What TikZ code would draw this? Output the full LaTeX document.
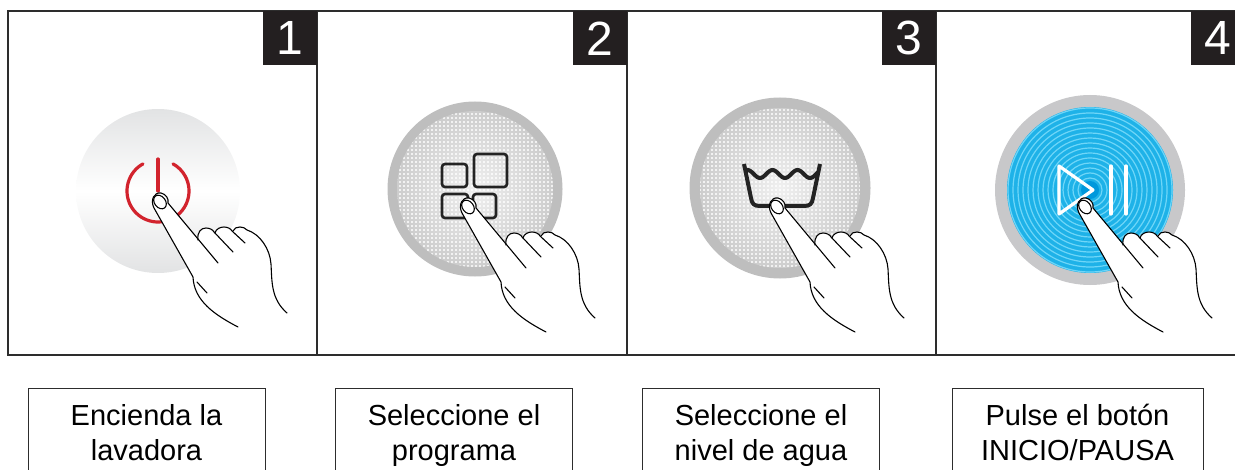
\documentclass[tikz,border=0pt]{standalone}
\usepackage{fontspec}
\setmainfont{Liberation Sans}
\usetikzlibrary{patterns.meta}
\definecolor{framegray}{RGB}{45, 45, 45}
\definecolor{badgeblack}{RGB}{35, 31, 32}
\definecolor{ringgray}{RGB}{190, 190, 190}
\definecolor{lightring}{RGB}{200, 200, 202}
\definecolor{meshgray}{RGB}{205, 205, 205}
\definecolor{softgray}{RGB}{226, 227, 228}
\definecolor{powerred}{RGB}{210, 35, 45}
\definecolor{iconblack}{RGB}{35, 35, 35}
\definecolor{startblue}{RGB}{30, 178, 232}
\definecolor{waveblue}{RGB}{110, 214, 248}
\definecolor{coreblue}{RGB}{0, 152, 220}
\tikzset{
  handline/.style={black, line width=0.55pt, line cap=round, line join=round},
  stepnum/.style={fill=badgeblack, text=white, minimum size=27pt, inner sep=0pt, anchor=north east, font=\fontsize{24}{24}\selectfont},
  caption/.style={draw=framegray, line width=0.5pt, anchor=north, align=center, minimum width=118.5pt, inner xsep=0pt, inner ysep=8pt, font=\fontsize{14.5}{17.5}\selectfont},
}
\newcommand{\pointinghand}[1]{%
  \begin{scope}[shift={#1}]
    % palm, index finger and curled knuckles
    \fill[white] (78,125) .. controls (55,113) and (34,99) .. (33,75) -- (-6,6)
      .. controls (-10,-2) and (-6,-10) .. (1,-9) .. controls (6,-8) and (9,-3) .. (8,1)
      -- (38,38) .. controls (37,30) and (41,26) .. (46,26) .. controls (50,26) and (53,28) .. (54,30)
      .. controls (56,27) and (60,25) .. (64,25) .. controls (68,25) and (71,27) .. (72,29)
      .. controls (74,26) and (77,25) .. (80,25) .. controls (83,25) and (85,26) .. (87,28)
      .. controls (100,32) and (110,47) .. (111,62) .. controls (112,80) and (111,97) .. (127,111) -- cycle;
    \draw[handline] (78,125) .. controls (55,113) and (34,99) .. (33,75) -- (-6,6)
      .. controls (-10,-2) and (-6,-10) .. (1,-9) .. controls (6,-8) and (9,-3) .. (8,1)
      -- (58,61);
    \draw[handline] (38,38) .. controls (37,30) and (41,26) .. (46,26) .. controls (50,26) and (53,28) .. (54,30) -- (73,50);
    \draw[handline] (55,31) .. controls (56,27) and (60,25) .. (64,25) .. controls (68,25) and (71,27) .. (72,29) -- (85,41);
    \draw[handline] (73,29) .. controls (74,26) and (77,25) .. (80,25) .. controls (83,25) and (85,26) .. (87,28)
      .. controls (100,32) and (110,47) .. (111,62) .. controls (112,80) and (111,97) .. (127,111);
    \draw[handline] (37,80) -- (47,91);
    % nail
    \draw[handline, rotate=-52] (0,0) ellipse (7.5 and 5.5);
  \end{scope}}

\begin{document}
\begin{tikzpicture}[x=0.5pt, y=-0.5pt]
  \useasboundingbox (0,0) rectangle (1235,470);
  \clip (0,0) rectangle (1235,470);

  % Button 1: power
  \coordinate (b1) at (158,191);
  \shade[top color=softgray, bottom color=softgray, middle color=white] (b1) circle (82);
  \draw[powerred, line width=1.6pt, line cap=round] (b1) ++(-119:31) arc (-119:-421:31);
  \draw[powerred, line width=1.6pt, line cap=round] (b1) ++(0,-32) -- (b1);
  \pointinghand{(160,202)}

  % Button 2: programs
  \coordinate (b2) at (475,189);
  \fill[ringgray] (b2) circle (87.5);
  \shade[inner color=meshgray!30, outer color=meshgray] (b2) circle (78);
  \fill[pattern={Dots[distance=2pt, radius=0.6pt]}, pattern color=white] (b2) circle (78);
  \draw[iconblack, line width=1.3pt, rounded corners=1.5pt]
    (442,164) rectangle (467,187) (474,154) rectangle (507,187)
    (442,194) rectangle (468,218) (473,194) rectangle (496,218);
  \pointinghand{(468,207)}

  % Button 3: water level
  \coordinate (b3) at (780,188);
  \fill[ringgray] (b3) circle (90.5);
  \shade[inner color=meshgray!30, outer color=meshgray] (b3) circle (80);
  \fill[pattern={Dots[distance=2pt, radius=0.6pt]}, pattern color=white] (b3) circle (80);
  \draw[iconblack, line width=2pt, line join=round] (744,164) -- (751,198)
    .. controls (752,204) and (754,206) .. (760,206) -- (804,206)
    .. controls (810,206) and (812,204) .. (813,198) -- (820,164);
  \draw[iconblack, line width=2pt] plot[domain=746:818, samples=50, smooth] (\x, {174+4*cos(14.4*(\x-760))});
  \pointinghand{(777,207)}

  % Button 4: start / pause
  \coordinate (b4) at (1090,190);
  \fill[lightring] (b4) circle (95);
  \fill[startblue] (b4) circle (83);
  \foreach \r in {12,17,...,82}
    \draw[waveblue, line width=0.6pt] (b4) circle (\r);
  \fill[coreblue] (b4) circle (9);
  \draw[white, line width=1.6pt, line join=round, line cap=round] (1059,166) -- (1059,214) -- (1093,190) -- cycle;
  \draw[white, line width=1.6pt, line cap=round] (1111,166) -- (1111,214) (1126,166) -- (1126,214);
  \pointinghand{(1085,207)}

  % Panels
  \draw[framegray, line width=1pt] (8,11) rectangle (1245,355);
  \foreach \xd in {317,627,936}
    \draw[framegray, line width=1pt] (\xd,11) -- (\xd,355);

  % Step numbers
  \node[stepnum] (num1) at (317,11) {1};
  \node[stepnum] (num2) at (627,11) {2};
  \node[stepnum] (num3) at (936,11) {3};
  \node[stepnum] (num4) at (1245,11) {4};

  % Captions
  \node[caption] (cap1) at (146.5,388) {Encienda la\\lavadora};
  \node[caption] (cap2) at (454,388) {Seleccione el\\programa};
  \node[caption] (cap3) at (761,388) {Seleccione el\\nivel de agua};
  \node[caption, minimum width=125.5pt] (cap4) at (1077.5,388) {Pulse el botón\\INICIO/PAUSA};
\end{tikzpicture}
\end{document}
